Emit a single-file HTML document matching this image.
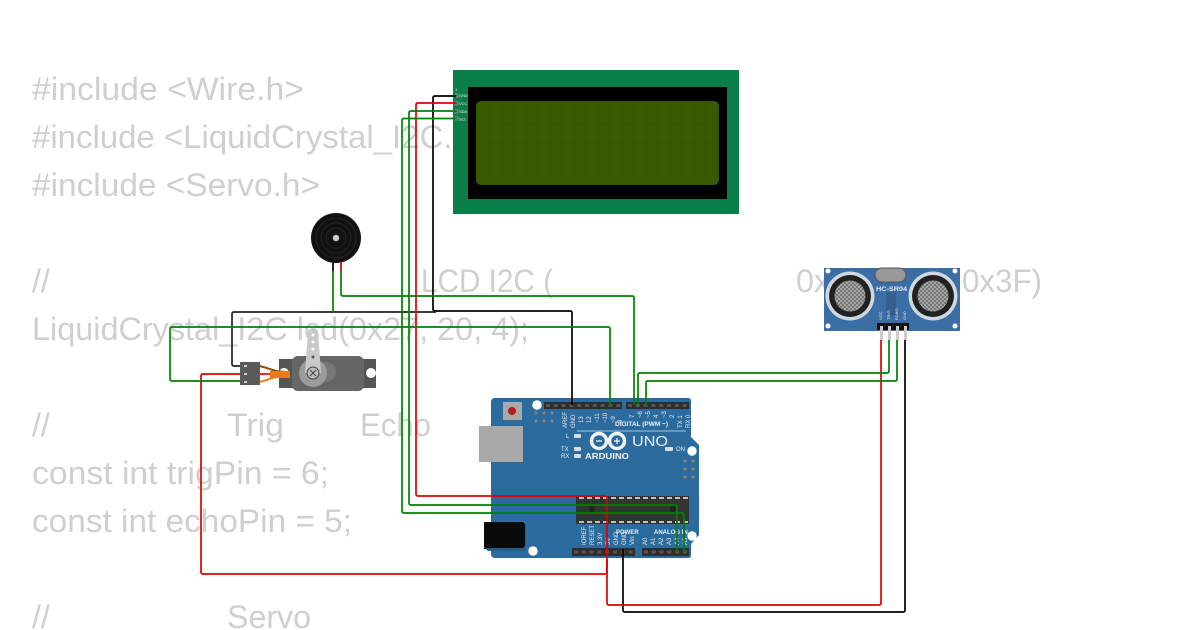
<!DOCTYPE html>
<html><head><meta charset="utf-8"><style>
html,body{margin:0;padding:0;background:#fff;width:1200px;height:630px;overflow:hidden}
svg{display:block}
.c{font-family:"Liberation Sans","Noto Sans CJK SC",sans-serif;font-size:32px;fill:#cfcfcf}
.w{fill:none;stroke-width:1.7}
.s{font-family:"Liberation Sans",sans-serif;font-size:6.5px;fill:#e8eef4;font-weight:bold}
.p{font-family:"Liberation Sans",sans-serif;font-size:4px;fill:#eee}
</style></head><body>
<svg width="1200" height="630" viewBox="0 0 1200 630" xmlns="http://www.w3.org/2000/svg">
<defs>
<pattern id="mesh" width="4" height="4" patternUnits="userSpaceOnUse"><rect width="4" height="4" fill="#777"/><rect width="2" height="2" fill="#a5a5a5"/><rect x="2" y="2" width="2" height="2" fill="#a5a5a5"/></pattern>
</defs>
<!-- code -->
<g class="c">
<text x="32" y="100" textLength="272" lengthAdjust="spacingAndGlyphs">#include &lt;Wire.h&gt;</text>
<text x="32" y="148" textLength="458" lengthAdjust="spacingAndGlyphs">#include &lt;LiquidCrystal_I2C.h&gt;</text>
<text x="32" y="196" textLength="288" lengthAdjust="spacingAndGlyphs">#include &lt;Servo.h&gt;</text>
<text x="32" y="292">//</text>
<text x="421" y="292" textLength="132" lengthAdjust="spacingAndGlyphs">LCD I2C (</text>
<text x="796" y="292" textLength="70" lengthAdjust="spacingAndGlyphs">0x27</text>
<text x="962" y="292" textLength="80" lengthAdjust="spacingAndGlyphs">0x3F)</text>
<text x="32" y="340" textLength="497" lengthAdjust="spacingAndGlyphs">LiquidCrystal_I2C lcd(0x27, 20, 4);</text>
<text x="32" y="436">//</text>
<text x="227" y="436" textLength="57" lengthAdjust="spacingAndGlyphs">Trig</text>
<text x="360" y="436" textLength="71" lengthAdjust="spacingAndGlyphs">Echo</text>
<text x="32" y="484" textLength="297" lengthAdjust="spacingAndGlyphs">const int trigPin = 6;</text>
<text x="32" y="532" textLength="320" lengthAdjust="spacingAndGlyphs">const int echoPin = 5;</text>
<text x="32" y="628">//</text>
<text x="227" y="628" textLength="84" lengthAdjust="spacingAndGlyphs">Servo</text>
</g>

<!-- LCD -->
<rect x="453" y="70" width="286" height="144" fill="#0a7e49"/>
<rect x="468" y="87" width="259" height="112" fill="#000"/>
<rect x="476" y="101" width="243" height="84" rx="5" fill="#395a00"/>
<g stroke="#345400" stroke-width="0.5" fill="none">
<path d="M490 105V181M502 105V181M514 105V181M526 105V181M538 105V181M550 105V181M562 105V181M574 105V181M586 105V181M598 105V181M610 105V181M622 105V181M634 105V181M646 105V181M658 105V181M670 105V181M682 105V181M694 105V181M706 105V181"/>
<path d="M484 124H712M484 143H712M484 162H712"/>
</g>
<g class="p"><text x="459" y="97">GND</text><text x="459" y="105">VCC</text><text x="459" y="113">SDA</text><text x="459" y="120.500">SCL</text><text x="455" y="91">1</text></g>
<g fill="#555" stroke="#bba" stroke-width=".5"><rect x="455" y="94" width="3" height="3"/><rect x="455" y="102" width="3" height="3"/><rect x="455" y="110" width="3" height="3"/><rect x="455" y="117" width="3" height="3"/></g>

<!-- buzzer -->
<circle cx="336" cy="238" r="25" fill="#111"/>
<circle cx="336" cy="238" r="20" fill="none" stroke="#262626" stroke-width="1"/>
<circle cx="336" cy="238" r="15" fill="none" stroke="#262626" stroke-width="1"/>
<circle cx="336" cy="238" r="10" fill="none" stroke="#262626" stroke-width="1"/>
<circle cx="336" cy="238" r="3.200" fill="#ccc"/>
<rect x="332" y="262" width="2" height="9" fill="#222"/>
<rect x="340" y="262" width="2" height="9" fill="#d22"/>

<!-- Servo -->
<rect x="279" y="359" width="97" height="29" fill="#555"/>
<rect x="292" y="356" width="72" height="35" rx="6" fill="#666"/>
<circle cx="371" cy="373" r="5" fill="#fff"/>
<circle cx="284" cy="373" r="5" fill="#fff"/>
<circle cx="326" cy="372" r="10" fill="#777"/>
<circle cx="313" cy="373" r="14" fill="#9c9c9c"/>
<path d="M305 373L308 331Q313 325 318 331L321 373Z" fill="#c9c9c9"/>
<circle cx="313" cy="335" r="1.500" fill="#fff"/><circle cx="313" cy="342" r="1.500" fill="#fff"/><circle cx="313" cy="349" r="1.500" fill="#fff"/><circle cx="313" cy="357" r="1.500" fill="#555"/>
<circle cx="313" cy="373" r="6" fill="#bbb" stroke="#444" stroke-width="1"/>
<path d="M310 370l6 6M316 370l-6 6" stroke="#444" stroke-width="1"/>
<path d="M259 366C270 368 272 372 290 372" stroke="#8a4a14" stroke-width="2" fill="none"/>
<path d="M259 374H290" stroke="#e33" stroke-width="2" fill="none"/>
<path d="M259 382C270 380 272 376 290 376" stroke="#f08010" stroke-width="2" fill="none"/>
<rect x="270" y="371" width="20" height="7" fill="#ec7a14"/>
<rect x="240" y="362" width="20" height="23" fill="#5a5a5a"/>
<rect x="244" y="365" width="3" height="2" fill="#ccc"/><rect x="244" y="373" width="3" height="2" fill="#ccc"/><rect x="244" y="381" width="3" height="2" fill="#ccc"/>

<!-- HC-SR04 -->
<rect x="824" y="268" width="136" height="63" fill="#3a6ea5"/>
<circle cx="828" cy="271" r="2.500" fill="#fff"/><circle cx="955" cy="271" r="2.500" fill="#fff"/><circle cx="828" cy="326" r="2.500" fill="#fff"/><circle cx="955" cy="326" r="2.500" fill="#fff"/>
<rect x="875" y="268" width="31" height="14" rx="7" fill="#999" stroke="#555" stroke-width="1"/>
<rect x="886" y="292" width="10" height="24" fill="#345f90"/>
<g>
<circle cx="850" cy="296" r="24.500" fill="#cfd8e0"/><circle cx="850" cy="296" r="21" fill="#222"/><circle cx="850" cy="296" r="15.500" fill="url(#mesh)"/>
<circle cx="933" cy="296" r="24.500" fill="#cfd8e0"/><circle cx="933" cy="296" r="21" fill="#222"/><circle cx="933" cy="296" r="15.500" fill="url(#mesh)"/>
</g>
<text class="s" x="876" y="291" textLength="31" lengthAdjust="spacingAndGlyphs">HC-SR04</text>
<g class="p" font-size="4"><text transform="translate(882,320) rotate(-90)">VCC</text><text transform="translate(890,320) rotate(-90)">TRIG</text><text transform="translate(898,320) rotate(-90)">ECHO</text><text transform="translate(906,320) rotate(-90)">GND</text></g>
<rect x="877" y="323" width="32" height="7" fill="#111"/>
<g fill="#ccc"><rect x="880" y="326" width="3" height="15"/><rect x="888" y="326" width="3" height="15"/><rect x="896" y="326" width="3" height="15"/><rect x="904" y="326" width="3" height="15"/></g>

<!-- Arduino -->
<rect x="479" y="426" width="44" height="36" fill="#a8a8a8"/>
<path d="M491 402Q491 398 495 398H688Q691 398 691 401V437L699 445V535L691 544V555Q691 558 688 558H495Q491 558 491 554Z" fill="#2c6b9e"/>
<rect x="479" y="426" width="44" height="36" fill="#a8a8a8"/>
<rect x="484" y="522" width="8" height="27" fill="#222"/>
<rect x="486" y="523" width="40" height="28" rx="3" fill="#255c88"/>
<rect x="484" y="522" width="41" height="26" rx="3" fill="#0a0a0a"/>
<circle cx="537" cy="405" r="4.700" fill="#fff"/><circle cx="692" cy="451" r="4.700" fill="#fff"/><circle cx="533" cy="551" r="4.700" fill="#fff"/><circle cx="692" cy="536" r="4.700" fill="#fff"/>
<rect x="503" y="402" width="19" height="18" fill="#a9a9a9"/><circle cx="512" cy="411" r="4" fill="#b51c1c"/>
<g fill="#8f8374"><circle cx="536" cy="413" r="1.500"/><circle cx="544" cy="413" r="1.500"/><circle cx="552" cy="413" r="1.500"/><circle cx="536" cy="421" r="1.500"/><circle cx="544" cy="421" r="1.500"/><circle cx="552" cy="421" r="1.500"/><circle cx="685" cy="461" r="1.500"/><circle cx="693" cy="461" r="1.500"/><circle cx="685" cy="469" r="1.500"/><circle cx="693" cy="469" r="1.500"/><circle cx="685" cy="477" r="1.500"/><circle cx="693" cy="477" r="1.500"/></g>
<g fill="#2e2e2e"><rect x="544" y="402" width="78" height="7"/><rect x="626" y="402" width="63" height="7"/><rect x="572" y="548" width="63" height="8"/><rect x="642" y="548" width="47" height="8"/></g>
<g stroke="#555" stroke-width="3" stroke-dasharray="4 3.800" fill="none"><path d="M546 405.500H622M628 405.500H689M574 552H635M644 552H689"/></g>
<g class="p" font-size="6" style="font-size:6px">
<text transform="translate(567,428) rotate(-90)">AREF</text><text transform="translate(575,428) rotate(-90)">GND</text><text transform="translate(583,423) rotate(-90)">13</text><text transform="translate(591,423) rotate(-90)">12</text><text transform="translate(599,423) rotate(-90)">~11</text><text transform="translate(607,423) rotate(-90)">~10</text><text transform="translate(615,423) rotate(-90)">~9</text><text transform="translate(622,423) rotate(-90)">8</text>
<text transform="translate(634,418) rotate(-90)">7</text><text transform="translate(642,418) rotate(-90)">~6</text><text transform="translate(650,418) rotate(-90)">~5</text><text transform="translate(658,418) rotate(-90)">4</text><text transform="translate(666,418) rotate(-90)">~3</text><text transform="translate(674,418) rotate(-90)">2</text><text transform="translate(682,428) rotate(-90)">TX 1</text><text transform="translate(690,428) rotate(-90)">RX 0</text>
<text x="566" y="438">L</text><text x="561" y="451">TX</text><text x="561" y="458">RX</text><text x="676" y="451">ON</text>
<text transform="translate(586,545) rotate(-90)">IOREF</text><text transform="translate(594,545) rotate(-90)">RESET</text><text transform="translate(602,545) rotate(-90)">3.3V</text><text transform="translate(610,545) rotate(-90)">5V</text><text transform="translate(618,545) rotate(-90)">GND</text><text transform="translate(626,545) rotate(-90)">GND</text><text transform="translate(634,545) rotate(-90)">Vin</text>
<text transform="translate(647,545) rotate(-90)">A0</text><text transform="translate(655,545) rotate(-90)">A1</text><text transform="translate(663,545) rotate(-90)">A2</text><text transform="translate(671,545) rotate(-90)">A3</text><text transform="translate(679,545) rotate(-90)">A4</text><text transform="translate(687,545) rotate(-90)">A5</text>
</g>
<text x="615" y="426" font-family="Liberation Sans,sans-serif" font-size="6.500" font-weight="bold" fill="#e8eef4">DIGITAL (PWM ~)</text>
<text x="616" y="534" font-family="Liberation Sans,sans-serif" font-size="6" font-weight="bold" fill="#e8eef4">POWER</text>
<text x="654" y="534" font-family="Liberation Sans,sans-serif" font-size="6" font-weight="bold" fill="#e8eef4">ANALOG IN</text>
<g fill="#ddd"><rect x="574" y="434" width="7" height="4" rx="1"/><rect x="574" y="447" width="7" height="4" rx="1"/><rect x="574" y="454" width="7" height="4" rx="1"/><rect x="665" y="447" width="8" height="4" rx="1"/></g>
<path d="M577 431H686" stroke="#cfe0ee" stroke-width=".7"/>
<g fill="none" stroke="#f1f5f8" stroke-width="3.500"><circle cx="599" cy="441" r="7.500"/><circle cx="617" cy="441" r="7.500"/></g>
<path d="M596 441h6M614 441h6M617 438v6" stroke="#f1f5f8" stroke-width="1.300"/>
<text x="585" y="459" font-family="Liberation Sans,sans-serif" font-size="8" font-weight="bold" fill="#f1f5f8" textLength="44" lengthAdjust="spacingAndGlyphs">ARDUINO</text>
<text x="632" y="446" font-family="Liberation Sans,sans-serif" font-size="15" fill="#e8eef4" textLength="36" lengthAdjust="spacingAndGlyphs">UNO</text>
<rect x="576" y="496" width="113" height="28" fill="#333"/>
<path d="M579 498H688M579 522H688" stroke="#eee" stroke-width="1.500" stroke-dasharray="5 3"/>
<circle cx="592" cy="509" r="3" fill="#222"/><circle cx="673" cy="509" r="3" fill="#222"/>

<!-- wires -->
<g class="w" stroke="#000">
<path d="M456 96H435Q433 96 433 98V309Q433 311 435 311H570Q572 311 572 313V405"/>
<path d="M240 366H234Q232 366 232 364V314Q232 312 234 312H436" stroke="#222"/>
<path d="M905 340V610Q905 612 903 612H625Q623 612 623 610V549"/>
</g>
<g class="w" stroke="#e00000">
<path d="M456 103H418Q416 103 416 105V494Q416 496 418 496H605Q607 496 607 498V603Q607 605 609 605H879Q881 605 881 603V340"/>
<path d="M240 374H203Q201 374 201 376V572Q201 574 203 574H605Q607 574 607 572V560"/>
</g>
<g class="w" stroke="#008000">
<path d="M456 111H411Q409 111 409 113V503Q409 505 411 505H675Q677 505 677 507V552"/>
<path d="M456 118.500H404Q402 118.500 402 120.500V511Q402 513 404 513H682Q684 513 684 515V552"/>
<path d="M333 271V312"/>
<path d="M341 271V294Q341 296 343 296H632Q634 296 634 298V405"/>
<path d="M240 381H172Q170 381 170 379V329Q170 327 172 327H608Q610 327 610 329V405"/>
<path d="M889 340V371Q889 373 887 373H640Q638 373 638 375V405"/>
<path d="M897 340V379Q897 381 895 381H648Q646 381 646 383V405"/>
</g>
</svg>
</body></html>
